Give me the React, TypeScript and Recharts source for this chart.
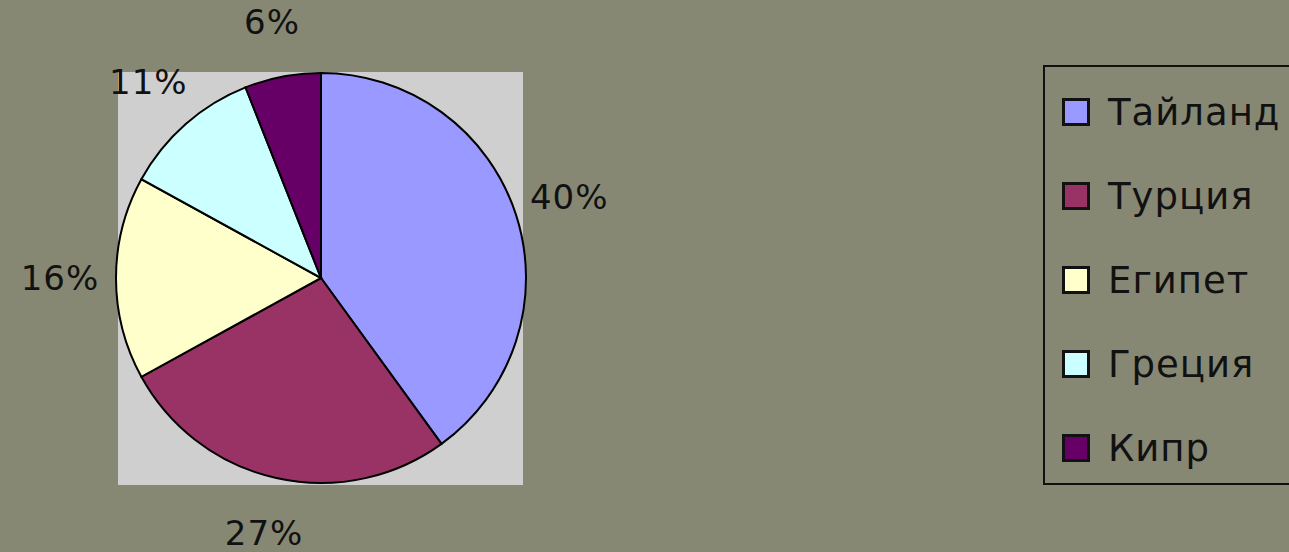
import React from 'react';
import { PieChart, Pie, Cell, Legend } from 'recharts';

const countries = ['Тайланд', 'Турция', 'Египет', 'Греция', 'Кипр'];
const shares = [40, 27, 16, 11, 6];
const colors = ['#9999FF', '#993366', '#FFFFCC', '#CCFFFF', '#660066'];

const chartData = countries.map((name, i) => ({ name, value: shares[i], fill: colors[i] }));

const FONT = '"DejaVu Sans", Verdana, sans-serif';
const RAD = Math.PI / 180;

const PercentLabel = (props: any) => {
  const { cx, cy, midAngle, outerRadius, percent } = props;
  const r = outerRadius + 56;
  const x = cx + r * Math.cos(-midAngle * RAD);
  const y = cy + r * Math.sin(-midAngle * RAD);
  return (
    <text
      x={x}
      y={y}
      fill="#111"
      fontFamily={FONT}
      fontSize={34}
      letterSpacing={1}
      textAnchor="middle"
      dominantBaseline="central"
    >
      {`${Math.round(percent * 100)}%`}
    </text>
  );
};

const LegendBox = () => (
  <div
    style={{
      width: 260,
      height: 420,
      border: '2px solid #111',
      boxSizing: 'border-box',
      paddingTop: 3,
    }}
  >
    {chartData.map(d => (
      <div key={d.name} style={{ display: 'flex', alignItems: 'center', height: 84 }}>
        <div
          style={{
            width: 22,
            height: 22,
            marginLeft: 17,
            marginRight: 18,
            background: d.fill,
            border: '3px solid #111',
          }}
        />
        <span style={{ fontFamily: FONT, fontSize: 37, color: '#111', letterSpacing: 1 }}>{d.name}</span>
      </div>
    ))}
  </div>
);

export default function App() {
  return (
    <div style={{ position: 'relative', width: 1289, height: 552, background: '#878874', overflow: 'hidden' }}>
      <style>{'body{margin:0}'}</style>
      <div
        style={{
          position: 'absolute',
          left: 118,
          top: 72,
          width: 405,
          height: 413,
          background: '#CFCFCF',
        }}
      />
      <div style={{ position: 'absolute', left: 0, top: 0 }}>
        <PieChart width={1289} height={552} margin={{ top: 0, right: 0, bottom: 0, left: 0 }}>
          <Pie
            data={chartData}
            dataKey="value"
            nameKey="name"
            cx={321}
            cy={278}
            outerRadius={205}
            startAngle={90}
            endAngle={-270}
            stroke="#000"
            strokeWidth={2}
            label={<PercentLabel />}
            labelLine={false}
            isAnimationActive={false}
          >
            {chartData.map(d => (
              <Cell key={d.name} fill={d.fill} />
            ))}
          </Pie>
          <Legend
            content={<LegendBox />}
            layout="vertical"
            wrapperStyle={{ position: 'absolute', left: 1043, top: 65, width: 260 }}
          />
        </PieChart>
      </div>
    </div>
  );
}
